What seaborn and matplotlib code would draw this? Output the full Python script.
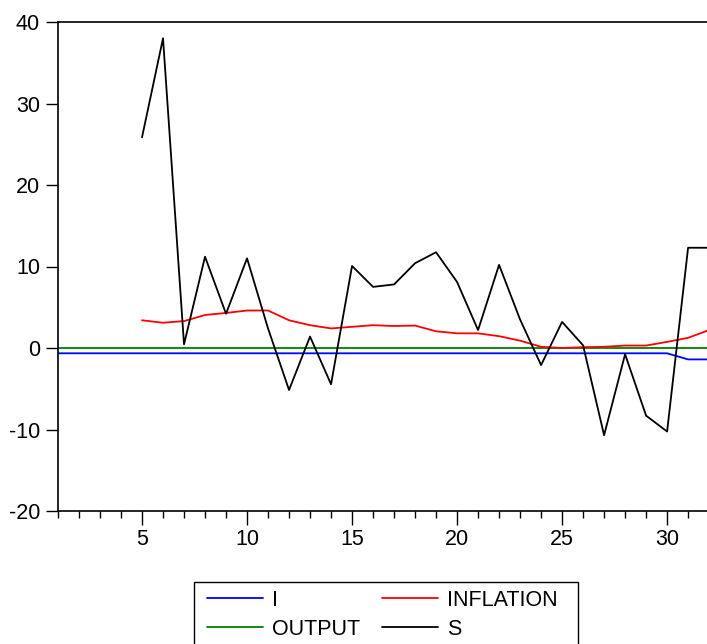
import numpy as np
import pandas as pd
import matplotlib
matplotlib.use("Agg")
import matplotlib.pyplot as plt
import seaborn as sns
from matplotlib.ticker import MultipleLocator
from matplotlib.patches import Rectangle

# ==================================================
# DATA
# ==================================================

periods = list(range(1, 33))

i_rate = [-0.65] * 30 + [-1.4, -1.4]

output = [0.05] * 32

inflation = [np.nan] * 4 + [
    3.4, 3.1, 3.3, 4.05, 4.3, 4.6, 4.6, 3.4, 2.8, 2.4,
    2.6, 2.8, 2.7, 2.75, 2.05, 1.8, 1.8, 1.45, 0.9, 0.15,
    0.0, 0.1, 0.15, 0.3, 0.3, 0.75, 1.25, 2.2
]

s_gap = [np.nan] * 4 + [
    25.85, 38.0, 0.45, 11.2, 4.2, 11.0, 2.4, -5.15, 1.4, -4.45,
    10.06, 7.5, 7.8, 10.4, 11.75, 8.1, 2.2, 10.2, 3.5, -2.1,
    3.2, 0.33, -10.7, -0.77, -8.3, -10.25, 12.3, 12.3
]

series_colors = {"I": "#0000ff", "INFLATION": "#ff0000",
                 "OUTPUT": "#008000", "S": "#000000"}

df = pd.DataFrame({
    "period": periods,
    "I": i_rate,
    "INFLATION": inflation,
    "OUTPUT": output,
    "S": s_gap,
})

# ==================================================
# PLOT
# ==================================================

sns.set_style("white")
plt.rcParams["font.family"] = ["Liberation Sans", "DejaVu Sans"]
plt.rcParams["axes.unicode_minus"] = False
plt.rcParams["text.color"] = "black"

fig = plt.figure(figsize=(7.07, 6.44), dpi=100)
ax = fig.add_axes([58 / 707, 1 - 511 / 644, 1 - 58 / 707, (511 - 22) / 644])

for name in ["I", "OUTPUT", "INFLATION", "S"]:
    sns.lineplot(data=df, x="period", y=name, ax=ax,
                 color=series_colors[name], linewidth=1.3, label=name)

ax.set_xlim(1, 31.9)
ax.set_ylim(-20, 40)
ax.set_xlabel("")
ax.set_ylabel("")

ax.xaxis.set_major_locator(MultipleLocator(5))
ax.xaxis.set_minor_locator(MultipleLocator(1))
ax.yaxis.set_major_locator(MultipleLocator(10))

ax.tick_params(axis="x", which="major", direction="out", length=10,
               width=1, labelsize=15.5, bottom=True, pad=3, colors="black")
ax.tick_params(axis="x", which="minor", direction="out", length=5,
               width=1, bottom=True, colors="black")
ax.tick_params(axis="y", direction="out", length=9, width=1,
               labelsize=15.5, left=True, pad=4, colors="black")

for side in ["left", "top", "bottom"]:
    ax.spines[side].set_color("black")
    ax.spines[side].set_linewidth(1.2)
ax.spines["right"].set_visible(False)

ax.get_legend().remove()

# ==================================================
# LEGEND (box runs off the bottom edge)
# ==================================================

box = Rectangle((194 / 707, -0.05), (578 - 194) / 707, 0.05 + (644 - 582) / 644,
                transform=fig.transFigure, fill=False,
                edgecolor="black", linewidth=1.0)
fig.add_artist(box)

handles, labels = ax.get_legend_handles_labels()
leg = fig.legend(handles, labels, ncol=2, loc="upper left",
                 bbox_to_anchor=(207 / 707, 1 - 590 / 644),
                 frameon=False, fontsize=15.5, borderpad=0,
                 borderaxespad=0, handlelength=2.6, columnspacing=1.05,
                 labelspacing=0.35, handletextpad=0.4, labelcolor="black")

plt.savefig("out.png", dpi=100)
